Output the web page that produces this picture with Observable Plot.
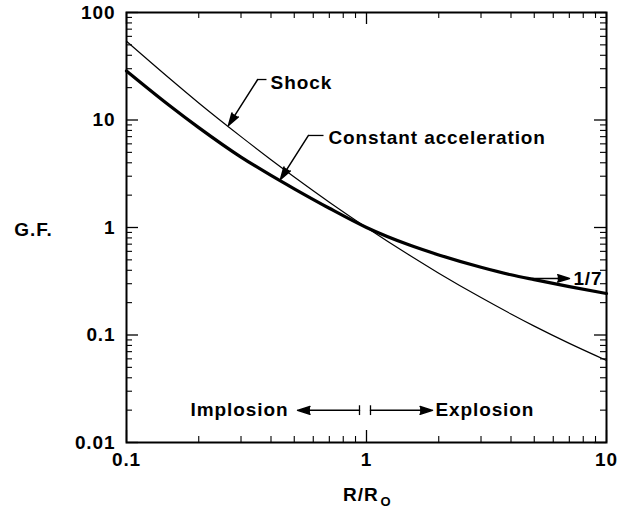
<!DOCTYPE html>
<html><head><meta charset="utf-8">
<script src="https://cdn.jsdelivr.net/npm/d3@7"></script>
<script src="https://cdn.jsdelivr.net/npm/@observablehq/plot@0.6"></script>
<style>body{margin:0;background:#fff}</style>
</head><body><div id="chart"></div>
<script>
// Data
const rRatio     = [0.1, 0.15, 0.2, 0.3, 0.4, 0.5, 0.7, 1, 1.5, 2, 3, 4, 5, 7, 10];
const shockGF    = [54, 24.7, 14.4, 7.0, 4.27, 2.95, 1.72, 1.0, 0.557, 0.376, 0.223, 0.157, 0.121, 0.0836, 0.058];
const constAccGF = [28.6, 13.8, 8.5, 4.52, 3.05, 2.29, 1.51, 1.0, 0.69, 0.556, 0.427, 0.363, 0.327, 0.282, 0.243];

const xTicks = [0.1, 1, 10];
const xTickLabels = ["0.1", "1", "10"];
const yTicks = [0.01, 0.1, 1, 10, 100];
const yTickLabels = ["0.01", "0.1", "1", "10", "100"];
const minorMultipliers = [2, 3, 4, 5, 6, 7, 8, 9];

const shock = rRatio.map((r, i) => ({r, gf: shockGF[i]}));
const constAcc = rRatio.map((r, i) => ({r, gf: constAccGF[i]}));
const xMinor = [0.1, 1].flatMap(d => minorMultipliers.map(m => d * m));
const yMinor = [0.01, 0.1, 1, 10].flatMap(d => minorMultipliers.map(m => d * m));

// Annotation text (data coordinates)
const labelsStart = [
  {text: "Shock", x: 0.391, y: 22.3},
  {text: "Constant acceleration", x: 0.681, y: 6.87},
  {text: "1/7", x: 7.14, y: 0.336},
  {text: "Explosion", x: 1.9, y: 0.0199}
];
const labelsEnd = [
  {text: "Implosion", x: 0.482, y: 0.0199}
];
const leaderLines = [
  {x1: 0.352, y1: 23.8, x2: 0.383, y2: 23.8},
  {x1: 0.573, y1: 7.18, x2: 0.662, y2: 7.18},
  {x1: 0.935, y1: 0.0222, x2: 0.935, y2: 0.0180},
  {x1: 1.039, y1: 0.0222, x2: 1.039, y2: 0.0180}
];
const arrows = [
  {x1: 0.352, y1: 23.8, x2: 0.266, y2: 8.9},
  {x1: 0.573, y1: 7.18, x2: 0.438, y2: 2.8},
  {x1: 4.92, y1: 0.336, x2: 7.01, y2: 0.336},
  {x1: 0.935, y1: 0.0199, x2: 0.516, y2: 0.0199},
  {x1: 1.039, y1: 0.0199, x2: 1.884, y2: 0.0199}
];

const W = 619, H = 509, mL = 126, mR = 13, mT = 12, mB = 67;
const iw = W - mL - mR, ih = H - mT - mB;
const majorLen = 12, minorLen = 6;

const chart = Plot.plot({
  width: W, height: H,
  marginLeft: mL, marginRight: mR, marginTop: mT, marginBottom: mB,
  style: {fontFamily: "'Liberation Sans', Arial, sans-serif", fontSize: "19px", fontWeight: "bold", letterSpacing: "0.9px", background: "white", color: "black"},
  x: {type: "log", domain: [0.1, 10]},
  y: {type: "log", domain: [0.01, 100]},
  marks: [
    Plot.frame({strokeWidth: 2}),
    // inward ticks: bottom
    Plot.ruleX(xTicks, {insetTop: ih - majorLen, strokeWidth: 1.3}),
    Plot.ruleX(xMinor, {insetTop: ih - minorLen, strokeWidth: 1.1}),
    // top
    Plot.ruleX(xTicks, {insetBottom: ih - majorLen, strokeWidth: 1.3}),
    Plot.ruleX(xMinor, {insetBottom: ih - minorLen, strokeWidth: 1.1}),
    // left
    Plot.ruleY(yTicks, {insetRight: iw - majorLen, strokeWidth: 1.3}),
    Plot.ruleY(yMinor, {insetRight: iw - minorLen, strokeWidth: 1.1}),
    // right
    Plot.ruleY(yTicks, {insetLeft: iw - majorLen, strokeWidth: 1.3}),
    Plot.ruleY(yMinor, {insetLeft: iw - minorLen, strokeWidth: 1.1}),
    Plot.axisX(xTicks, {tickSize: 0, tickPadding: 10, tickFormat: d => xTickLabels[xTicks.indexOf(d)], label: null, fontSize: 19}),
    Plot.axisY(yTicks, {tickSize: 0, tickPadding: 11, tickFormat: d => yTickLabels[yTicks.indexOf(d)], label: null, fontSize: 19}),
    // curves
    Plot.line(shock, {x: "r", y: "gf", curve: "monotone-x", strokeWidth: 1.2}),
    Plot.line(constAcc, {x: "r", y: "gf", curve: "monotone-x", strokeWidth: 3.2}),
    // annotations
    Plot.link(leaderLines, {x1: "x1", y1: "y1", x2: "x2", y2: "y2", strokeWidth: 1.3}),
    Plot.arrow(arrows, {x1: "x1", y1: "y1", x2: "x2", y2: "y2", stroke: "black", strokeWidth: 1.5, headLength: 13, headAngle: 34}),
    Plot.text(labelsStart, {x: "x", y: "y", text: "text", textAnchor: "start", dx: 2, fontSize: 19}),
    Plot.text(labelsEnd, {x: "x", y: "y", text: "text", textAnchor: "end", dx: -2, fontSize: 19}),
    // axis titles
    Plot.text(["G.F."], {x: () => 0.1, y: () => 1, dx: -93, dy: 2, textAnchor: "middle", fontSize: 19}),
    Plot.text(["R/R"], {x: () => 1.122, y: () => 0.01, dy: 52, textAnchor: "end", fontSize: 19}),
    Plot.text(["O"], {x: () => 1.122, y: () => 0.01, dx: 2, dy: 59, textAnchor: "start", fontSize: 13})
  ]
});
d3.select(chart).selectAll("g[aria-label=arrow] path").attr("fill", "black").attr("stroke-linejoin", "miter");
document.getElementById("chart").appendChild(chart);
</script>
</body></html>
